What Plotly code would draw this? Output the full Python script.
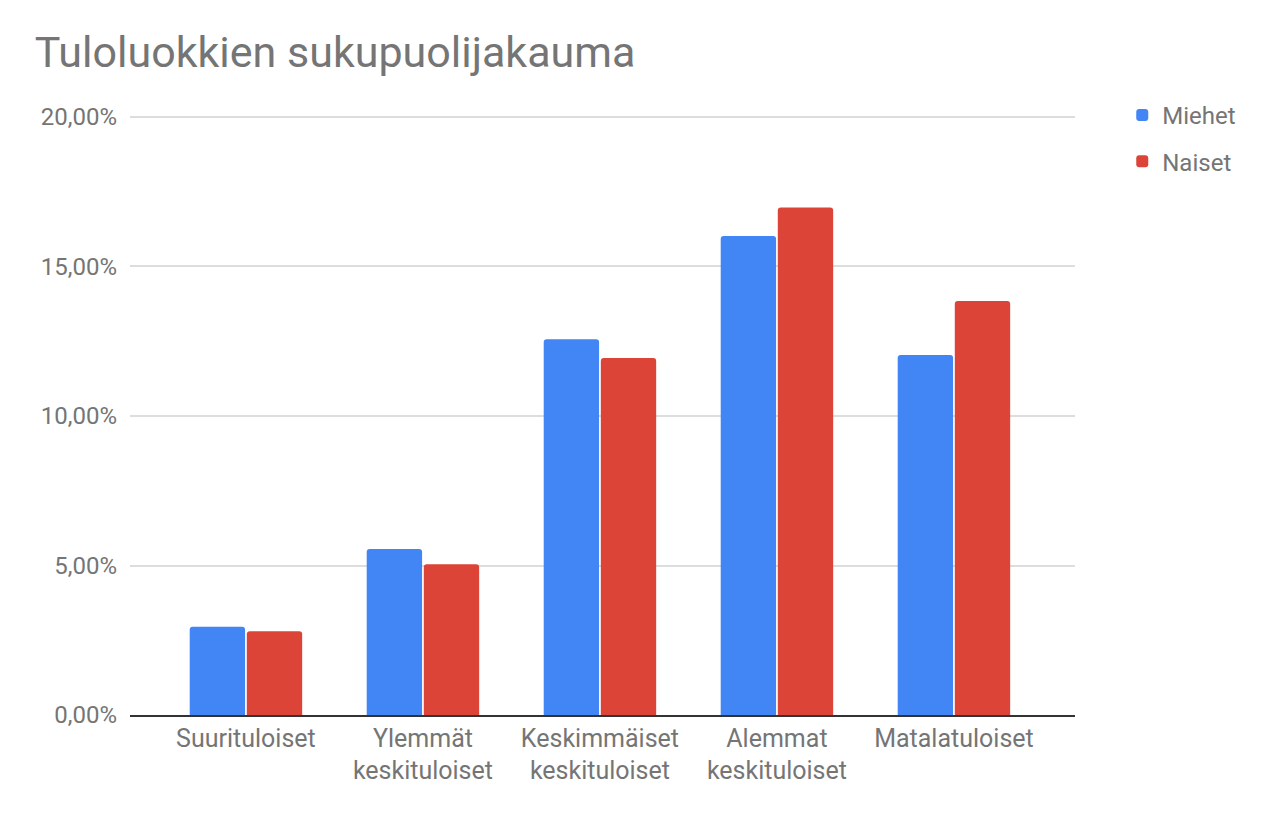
import plotly.graph_objects as go

# data
categories = ["Suurituloiset", "Ylemmät<br>keskituloiset", "Keskimmäiset<br>keskituloiset",
              "Alemmat<br>keskituloiset", "Matalatuloiset"]
miehet = [2.95, 5.55, 12.57, 16.02, 12.04]
naiset = [2.80, 5.04, 11.94, 16.97, 13.85]
yticks = [0, 5, 10, 15, 20]
ylabels = [f"{v:.2f}".replace('.', ',') + '%' for v in yticks]

grey = '#757575'

fig = go.Figure()
fig.add_trace(go.Bar(x=categories, y=miehet, name='Miehet', legendgroup='m',
                     marker=dict(color='#4285F4', cornerradius=3, line=dict(width=0))))
fig.add_trace(go.Bar(x=categories, y=naiset, name='Naiset', legendgroup='n',
                     marker=dict(color='#DB4437', cornerradius=3, line=dict(width=0))))

# page has an 8px body margin, so figure is shifted by 8px
fig.update_layout(
    width=1272, height=807,
    paper_bgcolor='white', plot_bgcolor='white',
    font=dict(family='Roboto', color=grey, size=24),
    title=dict(text='Tuloluokkien sukupuolijakauma', x=0.021, xanchor='left',
               y=0.945, yanchor='middle', font=dict(size=43, color=grey)),
    margin=dict(l=122, r=205, t=106, b=100),
    barmode='group', bargap=0.355, bargroupgap=0.03,
    legend=dict(x=1.05, xanchor='left', y=1.035, yanchor='top',
                traceorder='grouped', tracegroupgap=12,
                font=dict(size=24, color=grey)),
    xaxis=dict(showline=True, linecolor='#333333', linewidth=1.5,
               range=[-0.655, 4.684],
               tickfont=dict(size=25, color=grey), ticks=''),
    yaxis=dict(range=[0, 20.1], tickvals=yticks, ticktext=ylabels,
               gridcolor='#dddddd', gridwidth=1.5, zeroline=False,
               tickfont=dict(size=24, color=grey), ticks='', ticklabelstandoff=12),
)

fig.write_html("out.html")
